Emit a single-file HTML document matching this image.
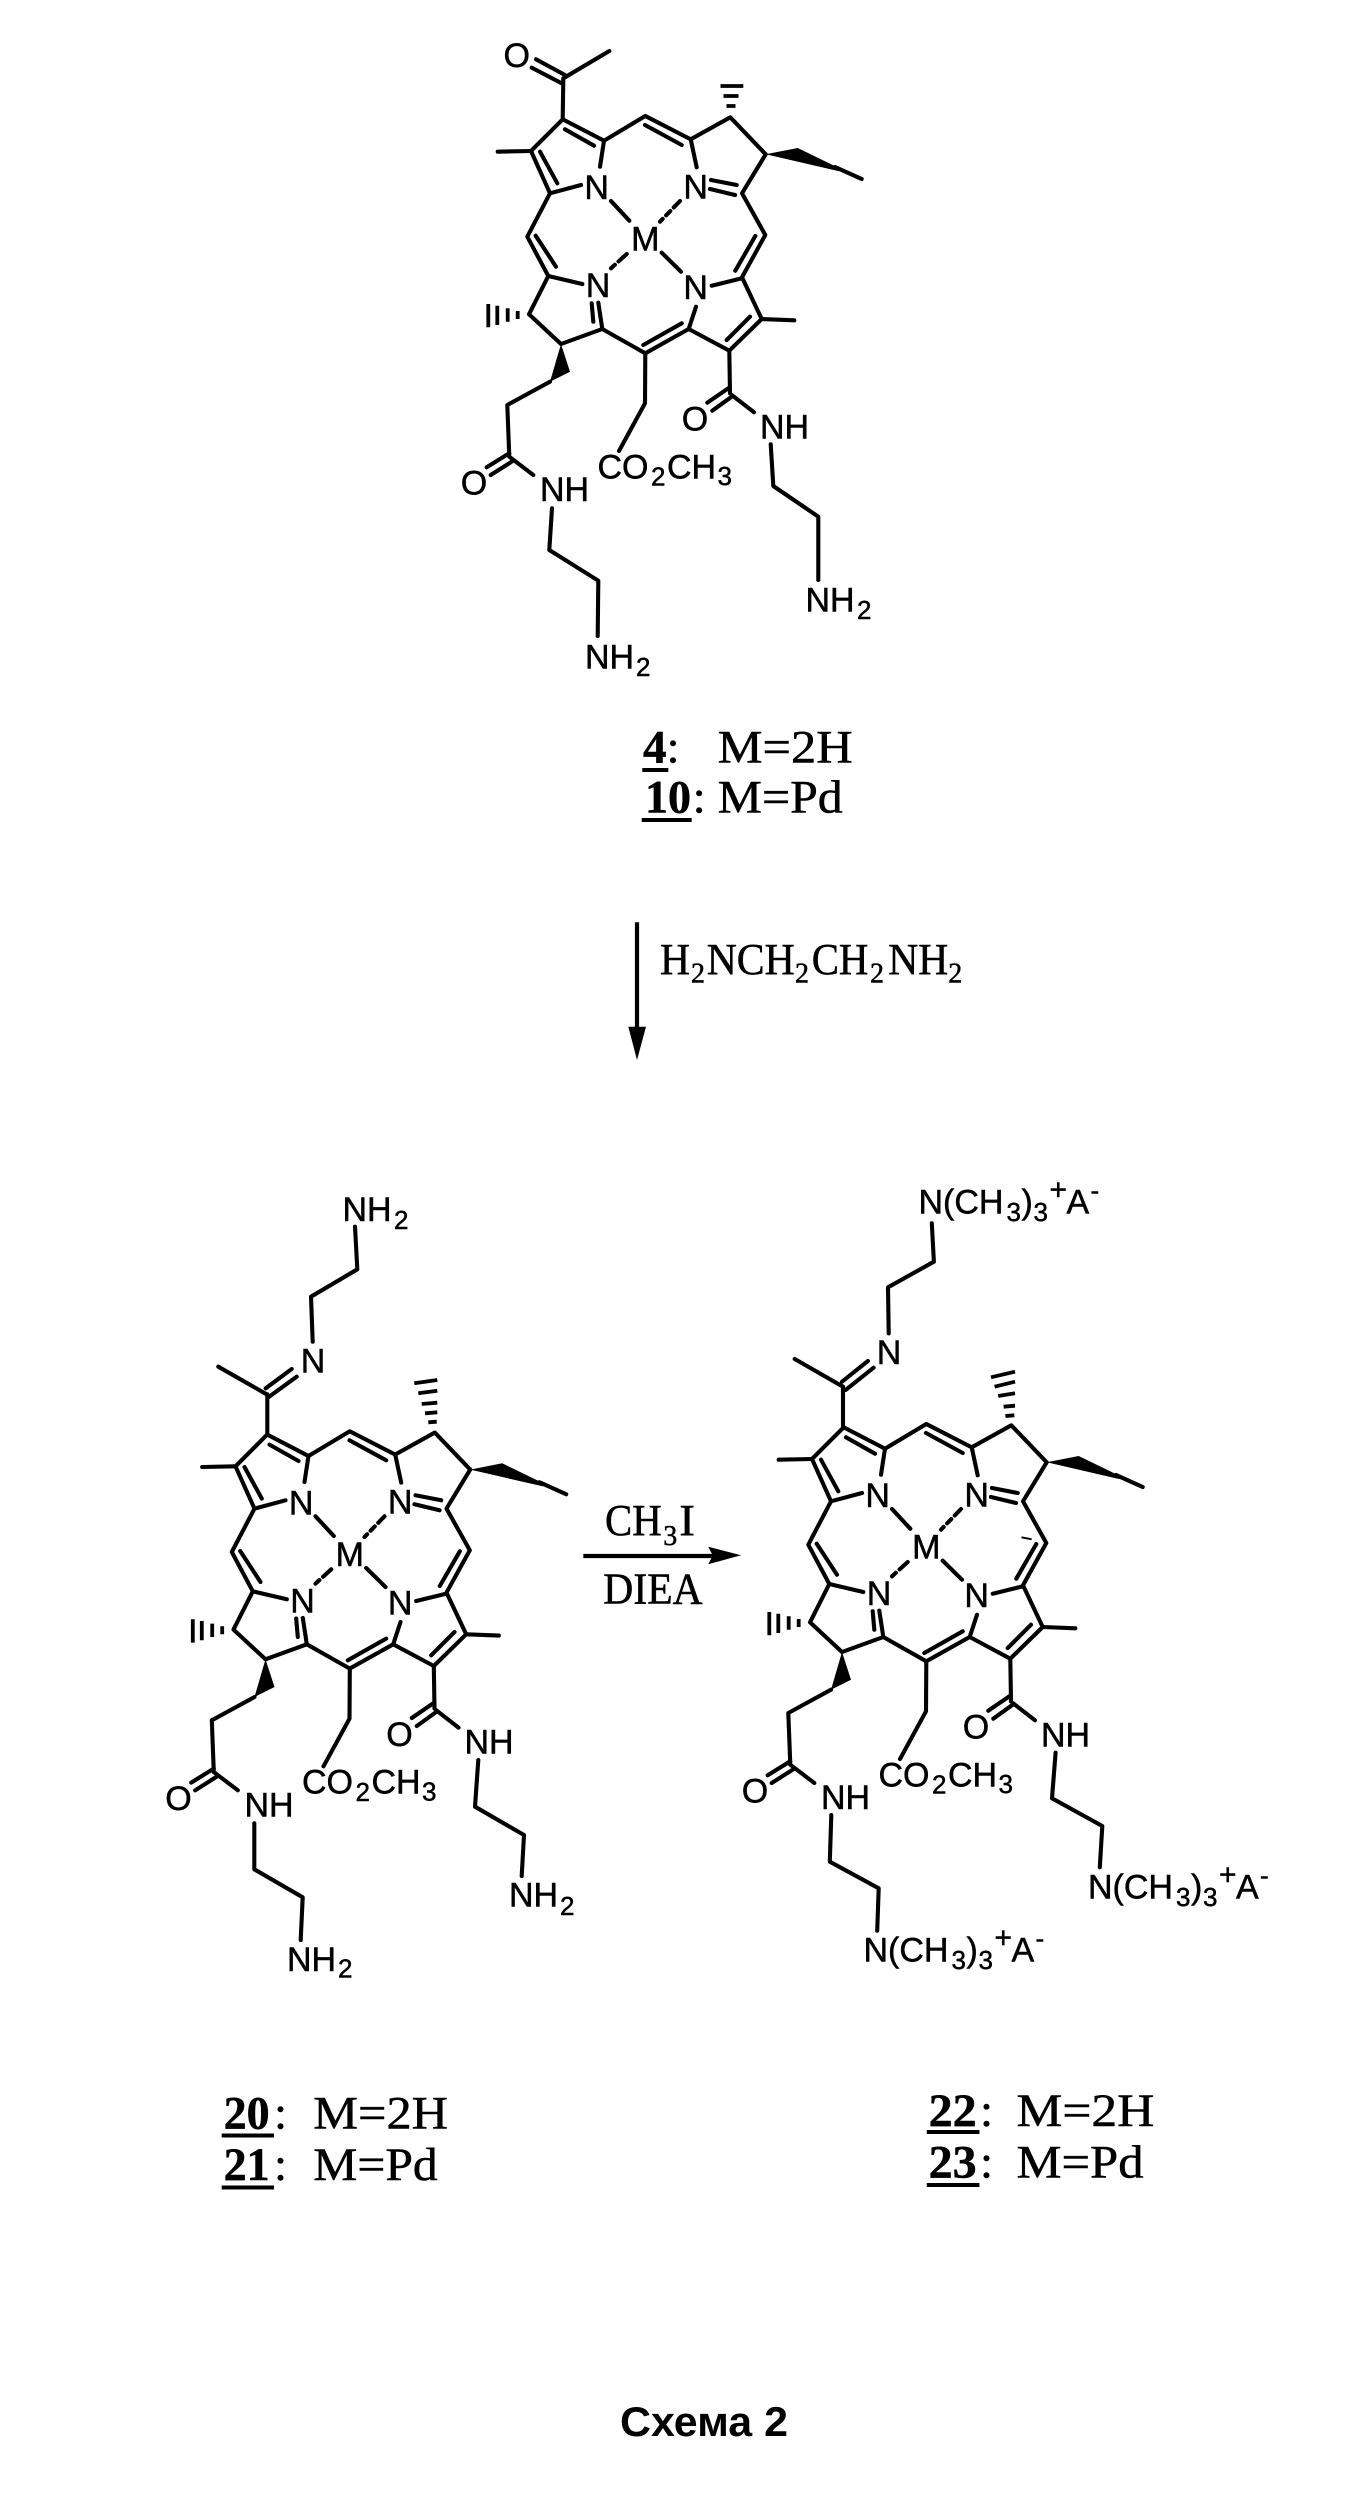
<!DOCTYPE html>
<html lang="ru"><head><meta charset="utf-8"><title>Схема 2</title>
<style>
html,body{margin:0;padding:0;background:#fff}
svg{display:block}
.l{fill:none;stroke:#000;stroke-width:4.1;stroke-linecap:round;stroke-linejoin:round}
.h{fill:none;stroke:#000;stroke-width:3.8;stroke-linecap:butt}
.s{font-family:"Liberation Sans",sans-serif;font-size:34px;fill:#000;stroke:#000;stroke-width:.5}
.b{font-family:"Liberation Sans",sans-serif;font-size:26px;fill:#000;stroke:#000;stroke-width:.5}
.t{font-family:"Liberation Serif",serif;font-size:47px;fill:#000;stroke:#000;stroke-width:.5}
.d{font-family:"Liberation Serif",serif;font-size:47px;font-weight:bold;fill:#000;stroke:#000;stroke-width:.5}
.r{font-family:"Liberation Serif",serif;font-size:44px;fill:#000;stroke:#000;stroke-width:.5}
.q{font-family:"Liberation Serif",serif;font-size:28px;fill:#000;stroke:#000;stroke-width:.5}
.c{font-family:"Liberation Sans",sans-serif;font-size:42px;font-weight:bold;fill:#000}
</style></head><body>
<svg width="1365" height="2510" viewBox="0 0 1365 2510" xmlns="http://www.w3.org/2000/svg">
<rect width="1365" height="2510" fill="#fff"/>

<!-- Molecule 4 / 10 -->
<g>
<path class="l" d="M562.7 119.3L604 140.7L645.3 116L690.7 139.3L730.3 117.3L765.7 154.3L742 193.3L765.3 235L742 277.3L761.7 319L729.3 350.7L688.7 329L645.3 353.3L602.3 329L561 344L529 314.3L548.3 276L527.3 236.7L550 193.3L531 151Z"/>
<path class="l" d="M531 151L497.7 151.7M565 129.3L594 145.7M540 151.7L557.3 183.3M645 125L681.7 145M535.7 235.7L556 266.7M755.3 236L735.3 270.7M643.3 345L681.7 323.3M726.7 340L750 316.7M761.7 319L794.3 320.3M604 140.7L600 166.7M550 193.3L581 185M611 201L629.3 220.7M661.7 252.7L681 271.7M690.7 139.3L696.7 167.3M711 180L736.7 185M710 189L735 195M548.3 276L582.3 284M591.7 303.3L593.3 321.7M598.3 302.7L602.3 329M696 306.7L688.7 329M711.7 285.7L742 278.3"/>
<path class="l" stroke-dasharray="9 5 6 5" d="M680 201L660 221.7"/>
<path class="l" stroke-dasharray="11 5 8" d="M626.7 254L611 268.3"/>
<path class="h" d="M517.7 311V319M507.7 308.3V321.7M497.3 305.7V325M488.3 304V327.3"/>
<polygon points="765.7,154.3 797.7,148 843,170 838,171"/>
<path class="l" d="M835 167L861.7 179"/>
<polygon points="561,344 550,381.7 570,371.7"/>
<path class="l" d="M550 381.7L507.3 405L509.3 456.7M509.3 453.3L486.7 467.3M511.7 461.7L490.7 475M510 457.3L533.3 475"/>
<path class="l" d="M645.3 353.3L645 403.3L619 451"/>
<path class="l" d="M729.3 350.7L730 393.3M728.3 388.3L707.3 402.7M731.7 396.7L712.3 410.7M731.7 395L754 412.3"/>
<text class="s" x="596.7" y="199" text-anchor="middle">N</text>
<text class="s" x="695.7" y="198.3" text-anchor="middle">N</text>
<text class="s" x="598" y="297" text-anchor="middle">N</text>
<text class="s" x="695.7" y="299" text-anchor="middle">N</text>
<text class="s" x="645.3" y="250.7" text-anchor="middle">M</text>
<text class="s" x="474" y="494.7" text-anchor="middle">O</text>
<text class="s" x="695" y="430.7" text-anchor="middle">O</text>
<text class="s" x="540" y="501">NH</text>
<text class="s" x="760" y="438.3">NH</text>
<text class="s" x="597.5" y="478.3">CO</text>
<text class="b" x="651" y="485.7">2</text>
<text class="s" x="667" y="478.3">CH</text>
<text class="b" x="717.5" y="485">3</text>
</g>
<path class="l" d="M536 59.3L565 75M531.7 67.7L561.7 83.3M563.3 78.3L609.3 51M563.3 78.3L562.7 119.3"/>
<text class="s" x="516.7" y="67" text-anchor="middle">O</text>
<path class="h" d="M726.5 106H735.5M723.5 96H738.5M720.5 86H743.3"/>
<path class="l" d="M552 508.3L549.3 550L598.3 580.7L597.7 636M770.7 444.3L773.3 486L818.3 516.7L818.3 580"/>
<text class="s" x="585" y="668.3">NH</text><text class="b" x="636" y="676">2</text>
<text class="s" x="805.5" y="611.7">NH</text><text class="b" x="857" y="619">2</text>

<text class="d" x="643" y="762.7">4</text><text class="t" x="666.5" y="762.7">:</text>
<rect x="642.3" y="768" width="26" height="4"/>
<text class="t" x="717.7" y="762.7" textLength="135" lengthAdjust="spacingAndGlyphs">M=2H</text>
<text class="d" x="645" y="812.7" textLength="46" lengthAdjust="spacingAndGlyphs">10</text><text class="t" x="692.6" y="812.7">:</text>
<rect x="641.7" y="818" width="50" height="4"/>
<text class="t" x="717.7" y="812.7" textLength="125" lengthAdjust="spacingAndGlyphs">M=Pd</text>

<!-- Vertical arrow -->
<path d="M637 922.3V1033" stroke="#000" stroke-width="4.2" fill="none"/>
<polygon points="628.3,1026.7 646,1026.7 637,1060"/>
<text class="r" x="660" y="974" textLength="30" lengthAdjust="spacingAndGlyphs">H</text>
<text class="q" x="691" y="982.7">2</text>
<text class="r" x="706.7" y="974" textLength="88" lengthAdjust="spacingAndGlyphs">NCH</text>
<text class="q" x="795" y="982.7">2</text>
<text class="r" x="811.7" y="974" textLength="56.7" lengthAdjust="spacingAndGlyphs">CH</text>
<text class="q" x="870" y="982.7">2</text>
<text class="r" x="888.3" y="974" textLength="60" lengthAdjust="spacingAndGlyphs">NH</text>
<text class="q" x="948.3" y="982.7">2</text>

<!-- Molecule 20 / 21 -->
<g transform="translate(-295.5,1315.3)">
<path class="l" d="M562.7 119.3L604 140.7L645.3 116L690.7 139.3L730.3 117.3L765.7 154.3L742 193.3L765.3 235L742 277.3L761.7 319L729.3 350.7L688.7 329L645.3 353.3L602.3 329L561 344L529 314.3L548.3 276L527.3 236.7L550 193.3L531 151Z"/>
<path class="l" d="M531 151L497.7 151.7M565 129.3L594 145.7M540 151.7L557.3 183.3M645 125L681.7 145M535.7 235.7L556 266.7M755.3 236L735.3 270.7M643.3 345L681.7 323.3M726.7 340L750 316.7M761.7 319L794.3 320.3M604 140.7L600 166.7M550 193.3L581 185M611 201L629.3 220.7M661.7 252.7L681 271.7M690.7 139.3L696.7 167.3M711 180L736.7 185M710 189L735 195M548.3 276L582.3 284M591.7 303.3L593.3 321.7M598.3 302.7L602.3 329M696 306.7L688.7 329M711.7 285.7L742 278.3"/>
<path class="l" stroke-dasharray="9 5 6 5" d="M680 201L660 221.7"/>
<path class="l" stroke-dasharray="11 5 8" d="M626.7 254L611 268.3"/>
<path class="h" d="M517.7 311V319M507.7 308.3V321.7M497.3 305.7V325M488.3 304V327.3"/>
<polygon points="765.7,154.3 797.7,148 843,170 838,171"/>
<path class="l" d="M835 167L861.7 179"/>
<polygon points="561,344 550,381.7 570,371.7"/>
<path class="l" d="M550 381.7L507.3 405L509.3 456.7M509.3 453.3L486.7 467.3M511.7 461.7L490.7 475M510 457.3L533.3 475"/>
<path class="l" d="M645.3 353.3L645 403.3L619 451"/>
<path class="l" d="M729.3 350.7L730 393.3M728.3 388.3L707.3 402.7M731.7 396.7L712.3 410.7M731.7 395L754 412.3"/>
<text class="s" x="596.7" y="199" text-anchor="middle">N</text>
<text class="s" x="695.7" y="198.3" text-anchor="middle">N</text>
<text class="s" x="598" y="297" text-anchor="middle">N</text>
<text class="s" x="695.7" y="299" text-anchor="middle">N</text>
<text class="s" x="645.3" y="250.7" text-anchor="middle">M</text>
<text class="s" x="474" y="494.7" text-anchor="middle">O</text>
<text class="s" x="695" y="430.7" text-anchor="middle">O</text>
<text class="s" x="540" y="501">NH</text>
<text class="s" x="760" y="438.3">NH</text>
<text class="s" x="597.5" y="478.3">CO</text>
<text class="b" x="651" y="485.7">2</text>
<text class="s" x="667" y="478.3">CH</text>
<text class="b" x="717.5" y="485">3</text>
</g>
<path class="l" d="M355 1226.7L357.3 1269.3L311 1296.7L312.7 1341.7M265.7 1388.3L291.7 1369M268.3 1397.3L296.7 1376.7M218.3 1366.7L266.7 1394.3M267.3 1394.3V1434"/>
<text class="s" x="313" y="1372.3" text-anchor="middle">N</text>
<text class="s" x="342.5" y="1221">NH</text><text class="b" x="394" y="1229">2</text>
<path class="h" d="M428.3 1422.3L436.7 1421.7M425 1413.3L437.3 1412.3M421.7 1404L437.3 1402.7M418.3 1393.3L437.3 1390.7M414.3 1383.3L437.3 1380"/>
<path class="l" d="M254.3 1823.3V1869.3L302.7 1897.3L300.7 1940M478.3 1760L475 1806.7L524 1835L521.7 1876"/>
<text class="s" x="287" y="1971">NH</text><text class="b" x="338" y="1977.3">2</text>
<text class="s" x="509" y="1906.7">NH</text><text class="b" x="560" y="1915">2</text>

<!-- Reaction arrow -->
<path d="M583.3 1556H715" stroke="#000" stroke-width="4.2" fill="none"/>
<polygon points="708.3,1546.7 741,1555.3 708.3,1564.3 712.7,1555.5"/>
<text class="r" x="605" y="1535" textLength="56.7" lengthAdjust="spacingAndGlyphs">CH</text>
<text class="q" x="663.3" y="1545">3</text>
<text class="r" x="679.3" y="1535" textLength="15.7" lengthAdjust="spacingAndGlyphs">I</text>
<text class="r" x="603.3" y="1603.3" textLength="99.4" lengthAdjust="spacingAndGlyphs">DIEA</text>

<!-- Molecule 22 / 23 -->
<g transform="translate(281,1308)">
<path class="l" d="M562.7 119.3L604 140.7L645.3 116L690.7 139.3L730.3 117.3L765.7 154.3L742 193.3L765.3 235L742 277.3L761.7 319L729.3 350.7L688.7 329L645.3 353.3L602.3 329L561 344L529 314.3L548.3 276L527.3 236.7L550 193.3L531 151Z"/>
<path class="l" d="M531 151L497.7 151.7M565 129.3L594 145.7M540 151.7L557.3 183.3M645 125L681.7 145M535.7 235.7L556 266.7M755.3 236L735.3 270.7M643.3 345L681.7 323.3M726.7 340L750 316.7M761.7 319L794.3 320.3M604 140.7L600 166.7M550 193.3L581 185M611 201L629.3 220.7M661.7 252.7L681 271.7M690.7 139.3L696.7 167.3M711 180L736.7 185M710 189L735 195M548.3 276L582.3 284M591.7 303.3L593.3 321.7M598.3 302.7L602.3 329M696 306.7L688.7 329M711.7 285.7L742 278.3"/>
<path class="l" stroke-dasharray="9 5 6 5" d="M680 201L660 221.7"/>
<path class="l" stroke-dasharray="11 5 8" d="M626.7 254L611 268.3"/>
<path class="h" d="M517.7 311V319M507.7 308.3V321.7M497.3 305.7V325M488.3 304V327.3"/>
<polygon points="765.7,154.3 797.7,148 843,170 838,171"/>
<path class="l" d="M835 167L861.7 179"/>
<polygon points="561,344 550,381.7 570,371.7"/>
<path class="l" d="M550 381.7L507.3 405L509.3 456.7M509.3 453.3L486.7 467.3M511.7 461.7L490.7 475M510 457.3L533.3 475"/>
<path class="l" d="M645.3 353.3L645 403.3L619 451"/>
<path class="l" d="M729.3 350.7L730 393.3M728.3 388.3L707.3 402.7M731.7 396.7L712.3 410.7M731.7 395L754 412.3"/>
<text class="s" x="596.7" y="199" text-anchor="middle">N</text>
<text class="s" x="695.7" y="198.3" text-anchor="middle">N</text>
<text class="s" x="598" y="297" text-anchor="middle">N</text>
<text class="s" x="695.7" y="299" text-anchor="middle">N</text>
<text class="s" x="645.3" y="250.7" text-anchor="middle">M</text>
<text class="s" x="474" y="494.7" text-anchor="middle">O</text>
<text class="s" x="695" y="430.7" text-anchor="middle">O</text>
<text class="s" x="540" y="501">NH</text>
<text class="s" x="760" y="438.3">NH</text>
<text class="s" x="597.5" y="478.3">CO</text>
<text class="b" x="651" y="485.7">2</text>
<text class="s" x="667" y="478.3">CH</text>
<text class="b" x="717.5" y="485">3</text>
</g>
<path class="l" d="M931.8 1223.3L933.9 1261.7L888 1287.3L888.7 1333.3M842 1381.7L867.9 1361M845.6 1390L873.6 1367.7M794.7 1359L843 1386.7M843 1386.7V1426.7"/>
<text class="s" x="889" y="1364" text-anchor="middle">N</text>
<path class="h" d="M1005.4 1416L1014.3 1415.3M1003.6 1406.7L1015 1405.7M998.2 1396L1015 1393.3M994.6 1386.7L1015 1381.7M991 1377.3L1015 1371.7"/>
<path d="M1021.5 1537.3L1031.6 1539.3" stroke="#000" stroke-width="2"/>
<path class="l" d="M831.3 1815L829.8 1861.7L878.7 1888.3L877.2 1930.7M1055.6 1752.7L1052 1798.3L1102.3 1826L1099.8 1867.3"/>

<!-- N(CH3)3+A- top -->
<g transform="translate(918.5,1213.3)">
<text class="s" x="0" y="0">N(CH</text><text class="b" x="88" y="7.5">3</text><text class="s" x="103" y="0">)</text><text class="b" x="115" y="7.5">3</text>
<text class="b" x="131" y="-14" style="font-size:30px">+</text><text class="s" x="148" y="0">A</text><text class="b" x="172" y="-14">-</text>
</g>
<!-- N(CH3)3+A- bottom left -->
<g transform="translate(863.5,1961.7)">
<text class="s" x="0" y="0">N(CH</text><text class="b" x="88" y="7.5">3</text><text class="s" x="103" y="0">)</text><text class="b" x="115" y="7.5">3</text>
<text class="b" x="131" y="-14" style="font-size:30px">+</text><text class="s" x="148" y="0">A</text><text class="b" x="172" y="-14">-</text>
</g>
<!-- N(CH3)3+A- bottom right -->
<g transform="translate(1088,1898.3)">
<text class="s" x="0" y="0">N(CH</text><text class="b" x="88" y="7.5">3</text><text class="s" x="103" y="0">)</text><text class="b" x="115" y="7.5">3</text>
<text class="b" x="131" y="-14" style="font-size:30px">+</text><text class="s" x="148" y="0">A</text><text class="b" x="172" y="-14">-</text>
</g>

<!-- Compound labels -->
<text class="d" x="223.6" y="2128.3" textLength="46" lengthAdjust="spacingAndGlyphs">20</text><text class="t" x="274" y="2128.3">:</text>
<rect x="221.7" y="2133.5" width="52.3" height="4"/>
<text class="t" x="313.3" y="2128.3" textLength="134.7" lengthAdjust="spacingAndGlyphs">M=2H</text>
<text class="d" x="223.6" y="2180" textLength="46" lengthAdjust="spacingAndGlyphs">21</text><text class="t" x="274" y="2180">:</text>
<rect x="221.7" y="2185.5" width="52.3" height="4"/>
<text class="t" x="313.3" y="2180" textLength="124.4" lengthAdjust="spacingAndGlyphs">M=Pd</text>

<text class="d" x="928.7" y="2126" textLength="48" lengthAdjust="spacingAndGlyphs">22</text><text class="t" x="980" y="2126">:</text>
<rect x="926.8" y="2130" width="52.6" height="4"/>
<text class="t" x="1016.5" y="2126" textLength="137.9" lengthAdjust="spacingAndGlyphs">M=2H</text>
<text class="d" x="928.7" y="2177.3" textLength="48" lengthAdjust="spacingAndGlyphs">23</text><text class="t" x="980" y="2177.3">:</text>
<rect x="926.8" y="2183" width="52.6" height="4"/>
<text class="t" x="1016.5" y="2177.3" textLength="127" lengthAdjust="spacingAndGlyphs">M=Pd</text>

<text class="c" x="620" y="2436" textLength="168" lengthAdjust="spacingAndGlyphs">Схема 2</text>
</svg>
</body></html>
